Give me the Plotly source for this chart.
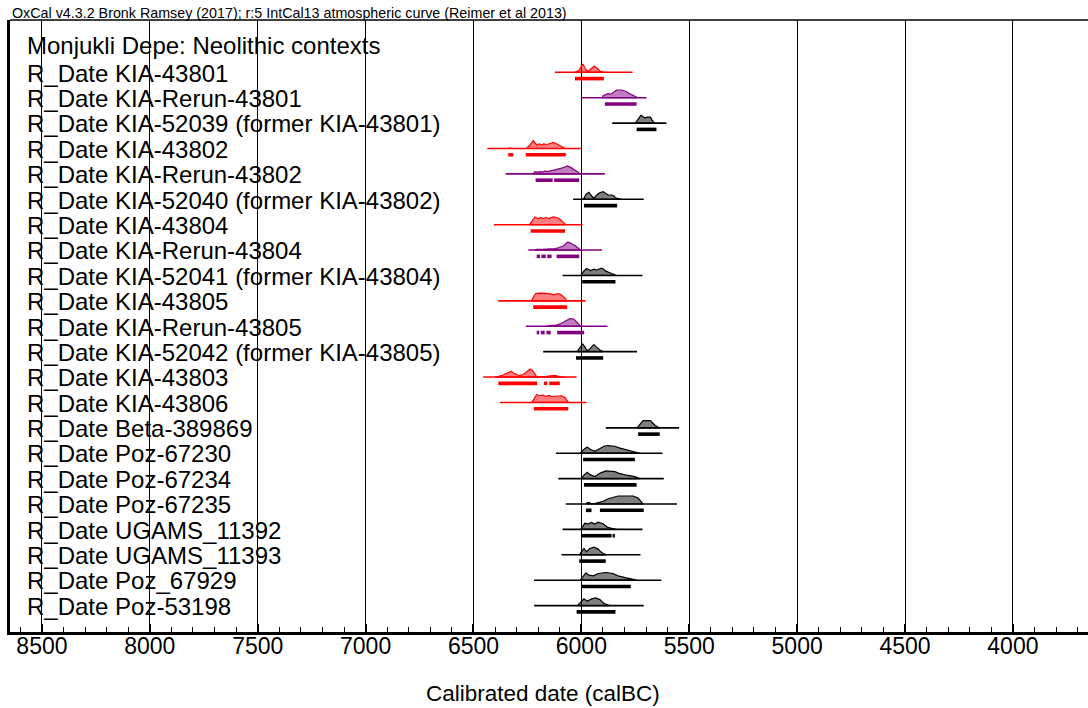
import plotly.graph_objects as go

# ---------------- data (calBC) ----------------
title_text = "Monjukli Depe: Neolithic contexts"
header_text = "OxCal v4.3.2 Bronk Ramsey (2017); r:5 IntCal13 atmospheric curve (Reimer et al 2013)"

labels = [
    "R_Date KIA-43801", "R_Date KIA-Rerun-43801", "R_Date KIA-52039 (former KIA-43801)",
    "R_Date KIA-43802", "R_Date KIA-Rerun-43802", "R_Date KIA-52040 (former KIA-43802)",
    "R_Date KIA-43804", "R_Date KIA-Rerun-43804", "R_Date KIA-52041 (former KIA-43804)",
    "R_Date KIA-43805", "R_Date KIA-Rerun-43805", "R_Date KIA-52042 (former KIA-43805)",
    "R_Date KIA-43803", "R_Date KIA-43806", "R_Date Beta-389869", "R_Date Poz-67230",
    "R_Date Poz-67234", "R_Date Poz-67235", "R_Date UGAMS_11392", "R_Date UGAMS_11393",
    "R_Date Poz_67929", "R_Date Poz-53198",
]

series_group = ["red", "purple", "black", "red", "purple", "black", "red", "purple", "black",
                "red", "purple", "black", "red", "red", "black", "black", "black", "black",
                "black", "black", "black", "black"]

range_start = [6123, 6000, 5857, 6436, 6351, 6038, 6405, 6246, 6087, 6385, 6257,
               6177, 6455, 6377, 5887, 6118, 6107, 6072, 6087, 6092, 6219, 6219]
range_end = [5763, 5698, 5606, 5999, 5891, 5711, 5994, 5904, 5717, 5981, 5879,
             5742, 6022, 5976, 5547, 5624, 5618, 5557, 5717, 5726, 5629, 5711]

dist_years = [
    [6030, 6010, 5998, 5992, 5985, 5975, 5965, 5950, 5940, 5930, 5915, 5899, 5880],
    [5905, 5899, 5885, 5876, 5865, 5850, 5837, 5814, 5795, 5780, 5760, 5745, 5737],
    [5750, 5740, 5730, 5724, 5715, 5705, 5695, 5680, 5672, 5665, 5655],
    [6340, 6331, 6320, 6255, 6240, 6230, 6223, 6215, 6205, 6195, 6185, 6175, 6160, 6145, 6131, 6115, 6100, 6085, 6075],
    [6225, 6215, 6205, 6192, 6180, 6169, 6158, 6146, 6123, 6092, 6075, 6064, 6050, 6038, 6025, 6015, 6005],
    [5995, 5988, 5978, 5965, 5955, 5942, 5930, 5915, 5899, 5885, 5876, 5860, 5850, 5843, 5830, 5814],
    [6240, 6228, 6215, 6200, 6189, 6177, 6164, 6152, 6140, 6131, 6115, 6107, 6092, 6080, 6072],
    [6215, 6207, 6180, 6146, 6120, 6107, 6084, 6072, 6064, 6055, 6043, 6030, 6022, 6012, 6005],
    [6002, 5990, 5976, 5965, 5957, 5942, 5930, 5918, 5907, 5895, 5887, 5868, 5853, 5837],
    [6232, 6222, 6212, 6192, 6169, 6146, 6131, 6118, 6107, 6095, 6081, 6072, 6066],
    [6160, 6146, 6120, 6107, 6090, 6076, 6063, 6053, 6035, 6025, 6019, 6008, 5999],
    [6020, 6005, 5994, 5985, 5975, 5969, 5958, 5942, 5932, 5922, 5910, 5899],
    [6400, 6385, 6365, 6354, 6340, 6326, 6315, 6308, 6295, 6285, 6270, 6262, 6250, 6238, 6228, 6220, 6210, 6200, 6161, 6140, 6123, 6110, 6100, 6076],
    [6230, 6220, 6207, 6192, 6177, 6164, 6149, 6138, 6115, 6092, 6076, 6068, 6061],
    [5742, 5730, 5720, 5714, 5680, 5670, 5658, 5645, 5637],
    [6005, 5990, 5973, 5960, 5937, 5915, 5895, 5880, 5845, 5825, 5791, 5760, 5729],
    [6000, 5988, 5973, 5960, 5937, 5915, 5887, 5845, 5825, 5798, 5752, 5729],
    [5979, 5973, 5962, 5957, 5935, 5899, 5876, 5845, 5830, 5760, 5737, 5725, 5714],
    [6002, 5992, 5984, 5969, 5953, 5938, 5922, 5899, 5888, 5880, 5853, 5837],
    [6010, 6000, 5988, 5976, 5961, 5942, 5922, 5910, 5899, 5883],
    [6005, 5992, 5979, 5965, 5945, 5922, 5887, 5853, 5830, 5791, 5744],
    [6018, 6000, 5988, 5973, 5953, 5933, 5914, 5900, 5891, 5868],
]
dist_prob = [
    [0, 2, 7, 8, 5, 1.5, 1.5, 4, 6.3, 4.5, 1.5, 0.3, 0],
    [0, 2, 3.3, 4.3, 3.3, 6, 7.7, 7.7, 6.5, 4.5, 2.7, 1, 0],
    [0, 3, 6.5, 7.7, 6.5, 5, 6, 6, 3, 0.8, 0],
    [0, 0.5, 0, 0, 3, 6.5, 8, 5.5, 3.3, 4.7, 3.3, 4.7, 4, 5, 6, 4.7, 3, 1, 0],
    [0, 2.3, 1.8, 2.3, 1.8, 3, 2.3, 2.7, 4, 5.7, 7, 8, 6.5, 5, 3.5, 1.7, 0],
    [0, 1, 5, 7, 4, 1, 4, 6.5, 7.7, 5.5, 4.3, 4.3, 3.5, 1.5, 0.5, 0],
    [0, 4, 7.7, 6, 7.3, 6, 7.3, 6, 7.3, 7.7, 7, 6.7, 4, 1.5, 0],
    [0, 0.8, 0.8, 1, 1.5, 2.3, 4, 6.5, 8, 7.5, 6.3, 4.5, 3.3, 1, 0],
    [0, 4, 7, 6, 5, 6.3, 5.3, 6.5, 7.3, 6, 4.3, 2.7, 1, 0],
    [0, 4, 7.3, 7.7, 7.7, 7.3, 6, 6.5, 7.3, 6, 4, 1.5, 0],
    [0, 0.7, 1.2, 1.7, 3.3, 5, 7, 7.7, 7.3, 5, 3, 1, 0],
    [0, 4, 7.7, 5, 1.5, 1, 3.5, 7, 5, 2.7, 1, 0],
    [0, 0.5, 1.8, 3, 4.5, 5.7, 4, 3, 2, 1.7, 2.5, 3.7, 6, 8, 6.5, 4.7, 1, 0.3, 0.7, 1, 1.7, 1, 0.3, 0],
    [0, 4, 7.7, 6.7, 7.3, 6, 7, 5.7, 6.3, 6.7, 5, 2, 0],
    [0, 3, 6.5, 7.3, 7.3, 5, 2.3, 0.8, 0],
    [0, 3.5, 6.3, 4, 2, 5, 7, 7.7, 7, 5.3, 3.3, 1.7, 0],
    [0, 3.5, 6.3, 4, 2, 5.3, 7.7, 7, 5.3, 3.7, 2, 0],
    [0, 1.3, 1.3, 0.5, 0.7, 2.7, 5.3, 6.7, 8, 8, 6, 3, 0],
    [0, 3, 6.3, 5.3, 7, 5.3, 7.3, 5.7, 3.5, 2.3, 0.7, 0],
    [0, 2.5, 6.3, 3, 6.3, 7.7, 5.7, 3, 1.3, 0],
    [0, 3.5, 7.3, 5, 4.3, 6.7, 7.7, 6.7, 4.3, 2.3, 0],
    [0, 3.5, 6.7, 4.3, 6.7, 7.7, 6, 3, 1.7, 0],
]

hpd_ranges = [
    [(6030, 5896)],
    [(5891, 5744)],
    [(5744, 5652)],
    [(6339, 6316), (6258, 6072)],
    [(6212, 6133), (6126, 6010)],
    [(5988, 5834)],
    [(6235, 6076)],
    [(6207, 6192), (6185, 6165), (6158, 6138), (6115, 6010)],
    [(5996, 5842)],
    [(6223, 6066)],
    [(6207, 6195), (6188, 6170), (6162, 6142), (6112, 5987)],
    [(6025, 5899)],
    [(6385, 6205), (6174, 6158), (6149, 6100)],
    [(6220, 6061)],
    [(5737, 5637)],
    [(5992, 5752)],
    [(5988, 5744)],
    [(5979, 5953), (5914, 5711)],
    [(5999, 5860), (5855, 5845)],
    [(6010, 5887)],
    [(5999, 5771)],
    [(6022, 5842)],
]

x_tick_values = [8500, 8000, 7500, 7000, 6500, 6000, 5500, 5000, 4500, 4000]
x_range = [8648, 3652]

# ---------------- styling ----------------
line_colors = {"red": "#ff0000", "purple": "#800080", "black": "#000000"}
fill_colors = {"red": "rgba(255,0,0,0.5)", "purple": "rgba(128,0,128,0.5)", "black": "rgba(0,0,0,0.5)"}
ROW_PX = 25.4
HEIGHT_SCALE = 1.0 / ROW_PX     # prob units are ~ pixels
HPD_OFFSET = 6.3 / ROW_PX
FONT = "Liberation Sans, Arial, Helvetica, sans-serif"

fig = go.Figure()

for i, lab in enumerate(labels):
    row = i + 1
    g = series_group[i]
    lc = line_colors[g]
    # full range line
    fig.add_trace(go.Scatter(x=[range_start[i], range_end[i]], y=[row, row], mode="lines",
                             line=dict(color=lc, width=1.6), hoverinfo="skip"))
    # distribution (filled above baseline)
    xs = list(dist_years[i])
    ys = [row - p * HEIGHT_SCALE for p in dist_prob[i]]
    px_ = xs + xs[::-1]
    py_ = ys + [row] * len(xs)
    fig.add_trace(go.Scatter(x=px_, y=py_, mode="lines", fill="toself",
                             fillcolor=fill_colors[g], line=dict(color=lc, width=1.2),
                             hoverinfo="skip"))
    # HPD bars
    bx, by = [], []
    for a, b in hpd_ranges[i]:
        bx += [a, b, None]
        by += [row + HPD_OFFSET] * 2 + [None]
    fig.add_trace(go.Scatter(x=bx, y=by, mode="lines", line=dict(color=lc, width=3.6),
                             hoverinfo="skip"))

annotations = []
LABEL_SHIFT = 0.03
LABEL_X = 0.0135
annotations.append(dict(x=LABEL_X, xref="paper", y=-0.04, yref="y",
                        text=title_text, showarrow=False, xanchor="left", yanchor="middle",
                        font=dict(family=FONT, size=24, color="black")))
for i, lab in enumerate(labels):
    annotations.append(dict(x=LABEL_X, xref="paper", y=i + 1 + LABEL_SHIFT, yref="y",
                            text=lab, showarrow=False, xanchor="left", yanchor="middle",
                            font=dict(family=FONT, size=24, color="black")))
annotations.append(dict(x=0.0, xref="paper", y=1.0114, yref="paper", text=header_text,
                        showarrow=False, xanchor="left", yanchor="middle",
                        font=dict(family=FONT, size=14.3, color="black")))
annotations.append(dict(x=0.494, xref="paper", y=-0.0997, yref="paper",
                        text="Calibrated date (calBC)", showarrow=False,
                        xanchor="center", yanchor="middle",
                        font=dict(family=FONT, size=22.5, color="black")))

fig.update_layout(
    width=1088, height=708,
    margin=dict(l=10, r=0, t=20, b=76),
    paper_bgcolor="white", plot_bgcolor="white",
    showlegend=False,
    annotations=annotations,
    xaxis=dict(range=x_range, tickmode="array", tickvals=x_tick_values,
               ticktext=[str(v) for v in x_tick_values],
               showgrid=True, gridcolor="black", gridwidth=1, zeroline=False,
               showline=True, linecolor="black", linewidth=3,
               ticks="inside", ticklen=8, tickwidth=2, tickcolor="black",
               ticklabelstandoff=-9,
               minor=dict(tickmode="linear", tick0=4000, dtick=100, ticks="inside",
                          ticklen=5, tickwidth=1, tickcolor="black", showgrid=False),
               tickfont=dict(family=FONT, size=23, color="black")),
    yaxis=dict(range=[23.04, -1.06], showgrid=False, zeroline=False,
               showticklabels=False, ticks="",
               showline=True, linecolor="black", linewidth=3),
    shapes=[dict(type="line", xref="paper", yref="paper", x0=0, x1=1, y0=1, y1=1,
                 line=dict(color="black", width=1.5))],
)

fig.write_html("out.html", config={"displayModeBar": False},
               post_script="document.body.style.margin='0';document.body.style.overflow='hidden';")
